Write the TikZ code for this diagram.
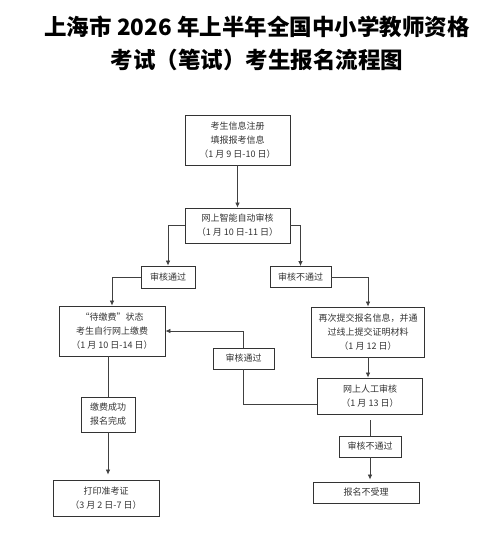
\documentclass[tikz,border=0pt]{standalone}
\usepackage{fontspec}
\setmainfont{Noto Sans CJK SC}
\usetikzlibrary{arrows.meta}
\tikzset{
  box/.style={draw=black!80, line width=0.9pt, text=black!80, align=center,
    inner sep=0pt, font=\fontsize{9}{14}\selectfont},
  flow/.style={draw=black!75, line width=0.7pt},
  tip/.style={-{Latex[length=5pt,width=4.5pt]}}
}
\begin{document}
\begin{tikzpicture}[x=1pt,y=-1pt]
      \useasboundingbox (0,0) rectangle (500,537);
      \node[align=center, font=\fontsize{22.5}{33}\selectfont\bfseries] (title)
        at (257,43.5) {上海市 2026 年上半年全国中小学教师资格\\考试（笔试）考生报名流程图};
      \draw
        (237.5,140) node[box, minimum width=105, minimum height=50] (reg)
          {考生信息注册\\填报报考信息\\（1 月 9 日-10 日）}
        (237.5,225.5) node[box, minimum width=105, minimum height=35] (auto)
          {网上智能自动审核\\（1 月 10 日-11 日）}
        (168,277) node[box, minimum width=54, minimum height=22] (pass1) {审核通过}
        (300.5,277) node[box, minimum width=61, minimum height=21] (fail1) {审核不通过}
        (112,331) node[box, minimum width=106, minimum height=50] (wait)
          {“待缴费”状态\\考生自行网上缴费\\（1 月 10 日-14 日）}
        (368,332) node[box, minimum width=113, minimum height=50] (resub)
          {再次提交报名信息，并通\\过线上提交证明材料\\（1 月 12 日）}
        (243.5,358.5) node[box, minimum width=61, minimum height=21] (pass2) {审核通过}
        (370,396) node[box, minimum width=105, minimum height=36] (manual)
          {网上人工审核\\（1 月 13 日）}
        (108,414.5) node[box, minimum width=54, minimum height=35] (done)
          {缴费成功\\报名完成}
        (370,446.5) node[box, minimum width=62, minimum height=21] (fail2) {审核不通过}
        (106,498) node[box, minimum width=106, minimum height=36] (print)
          {打印准考证\\（3 月 2 日-7 日）}
        (366,492.5) node[box, minimum width=106, minimum height=21] (reject) {报名不受理};
      \begin{scope}[flow]
        \draw[tip] (reg) to (auto);
        \draw[tip] (auto.west) -| (pass1.north);
        \draw[tip] (pass1.west) -| (wait.north);
        \draw[tip] (auto.east) -| (fail1.north);
        \draw[tip] (fail1.east) -| (resub.north);
        \draw[tip] (resub.south) to (resub.south |- manual.north);
        \draw ([yshift=-8pt]manual.west) -| (pass2.south);
        \draw[tip] (pass2.north) |- (wait.east);
        \draw (wait.south -| done.north) to (done.north);
        \draw[tip, shorten >=5pt] (done.south) to (done.south |- print.north);
        \draw[shorten <=6pt] (manual.south) to (fail2.north);
        \draw[tip, shorten >=2pt] (fail2.south) to (fail2.south |- reject.north);
      \end{scope}
    \end{tikzpicture}
\end{document}
